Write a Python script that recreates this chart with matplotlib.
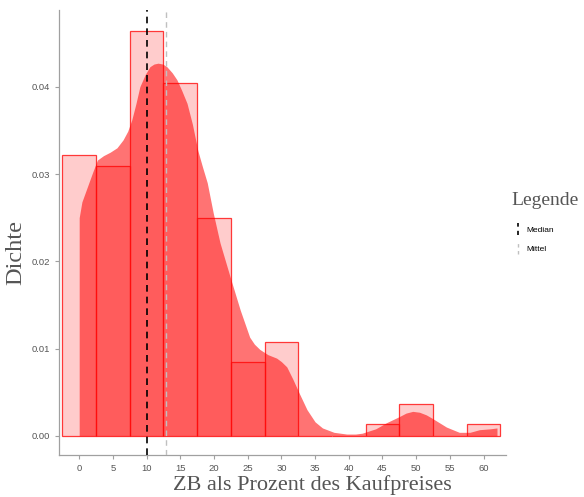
import numpy as np
import matplotlib
matplotlib.use("Agg")
import matplotlib.pyplot as plt
from matplotlib.lines import Line2D
from matplotlib.legend_handler import HandlerBase

# histogram (binwidth 5, bins centred on multiples of 5)
bin_centers = [0, 5, 10, 15, 20, 25, 30, 35, 40, 45, 50, 55, 60]
bin_density = [0.0322, 0.0309, 0.0464, 0.0404, 0.0250, 0.0085, 0.0108,
               0.0, 0.0, 0.0013, 0.0036, 0.0, 0.0013]

# density curve
kde_x = [0.0, 0.0, 0.4, 1.2, 2.0, 2.7, 3.6, 4.6, 5.6, 6.5, 7.2, 7.8, 8.4,
         9.0, 9.8, 10.5, 11.1, 11.7, 12.4, 13.0, 13.8, 14.5, 15.2, 16.0,
         16.8, 17.6, 18.3, 19.0, 19.9, 20.9, 22.4, 23.9, 25.3, 26.0, 26.8,
         28.0, 29.3, 30.0, 30.8, 31.7, 32.7, 33.8, 35.0, 36.1, 37.8, 39.7,
         41.0, 42.0, 44.0, 45.6, 47.5, 48.5, 49.5, 50.5, 51.5, 52.4, 54.5,
         56.4, 58.0, 59.4, 61.0, 62.0, 62.0]
kde_y = [0.0, 0.0250, 0.0268, 0.0285, 0.0302, 0.0316, 0.0321, 0.0325,
         0.0330, 0.0339, 0.0349, 0.0362, 0.0380, 0.0400, 0.0414, 0.0423,
         0.0426, 0.0427, 0.0426, 0.0423, 0.0416, 0.0408, 0.0396, 0.0381,
         0.0357, 0.0327, 0.0308, 0.0290, 0.0255, 0.0221, 0.0182, 0.0144,
         0.0113, 0.0105, 0.0099, 0.0093, 0.0089, 0.0085, 0.0079, 0.0065,
         0.0048, 0.0030, 0.0016, 0.0009, 0.0004, 0.0002, 0.0002, 0.0003,
         0.0008, 0.0015, 0.0022, 0.0026, 0.0028, 0.0027, 0.0024, 0.0020,
         0.0010, 0.0004, 0.0004, 0.0007, 0.0008, 0.0009, 0.0]

median_val = 10.0
mean_val = 12.9


class VLineHandler(HandlerBase):
    def create_artists(self, legend, orig, xd, yd, w, h, fontsize, trans):
        x = xd + w / 2
        ln = Line2D([x, x], [yd - 0.5 * h, yd + 1.5 * h], color=orig.get_color(),
                    linewidth=orig.get_linewidth(), dashes=(2.5, 2.5),
                    transform=trans)
        return [ln]


fig = plt.figure(figsize=(5.84, 4.97), dpi=100)
ax = fig.add_axes([0.101, 0.0845, 0.765, 0.8955])

ax.bar(bin_centers, bin_density, width=5, color=(1, 0, 0, 0.2),
       edgecolor=(1, 0.1, 0.1, 0.85), linewidth=0.9, zorder=2)
ax.fill_between(kde_x, kde_y, 0, color="#ff0000", alpha=0.55, linewidth=0, zorder=3)

ax.axvline(median_val, color="black", linestyle=(0, (4, 3)), linewidth=1.2, zorder=4)
ax.axvline(mean_val, color="#c0c0c0", linestyle=(0, (4, 3)), linewidth=1.0, zorder=4)

ax.set_xlim(-3.0, 63.3)
ax.set_ylim(-0.0022, 0.0488)
ax.set_xticks(range(0, 61, 5))
ax.set_yticks([0.0, 0.01, 0.02, 0.03, 0.04])
ax.set_yticklabels(["0.00", "0.01", "0.02", "0.03", "0.04"])

for s in ["top", "right"]:
    ax.spines[s].set_visible(False)
for s in ["left", "bottom"]:
    ax.spines[s].set_color("#a0a0a0")
    ax.spines[s].set_linewidth(0.9)
ax.tick_params(colors="#a0a0a0", labelcolor="#555555", labelsize=6.8, length=3,
               width=0.8)
for lab in ax.get_xticklabels() + ax.get_yticklabels():
    lab.set_family("Liberation Sans")

ax.set_xlabel("ZB als Prozent des Kaufpreises", family="Liberation Serif",
              fontsize=16, color="#555555")
ax.set_ylabel("Dichte", family="Liberation Serif", fontsize=17.5,
              color="#555555")
ax.xaxis.set_label_coords(0.568, -0.046)
ax.yaxis.set_label_coords(-0.074, 0.454)

handles = [Line2D([], [], color="black", linewidth=1.2),
           Line2D([], [], color="#c0c0c0", linewidth=1.0)]
leg = fig.legend(handles, ["Median", "Mittel"], loc="upper left",
                 bbox_to_anchor=(0.862, 0.628), frameon=False,
                 handlelength=1.6, handletextpad=0.3, labelspacing=1.4,
                 prop={"family": "Liberation Sans", "size": 6},
                 title="Legende",
                 title_fontproperties={"family": "Liberation Serif", "size": 14},
                 handler_map={Line2D: VLineHandler()})
leg.get_title().set_color("#555555")
leg._legend_box.align = "left"
leg._legend_box.sep = 12

fig.savefig("out.png", dpi=100)
